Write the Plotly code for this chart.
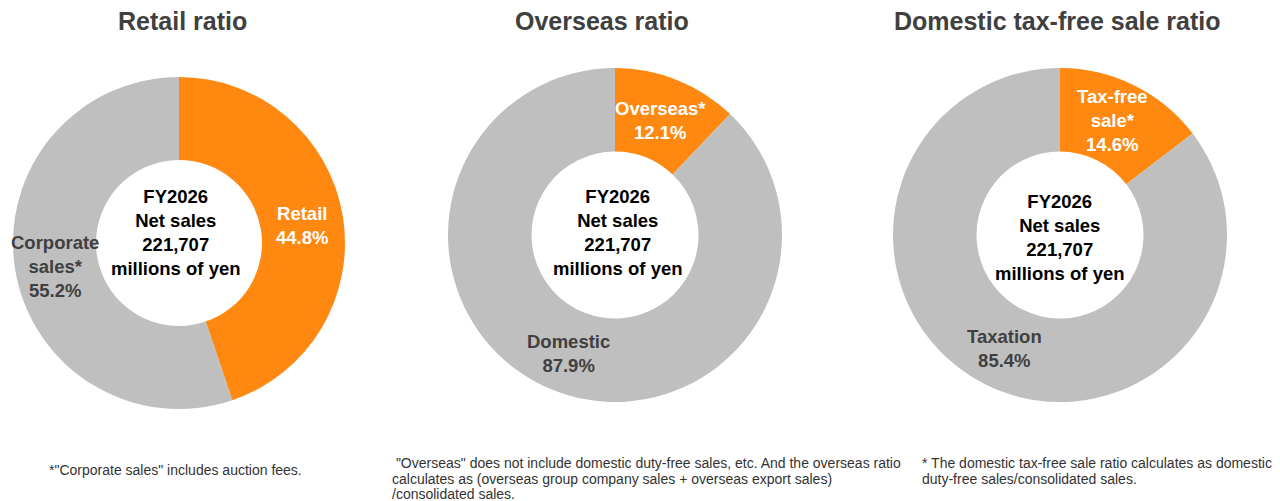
import plotly.graph_objects as go

# Chart data
titles = ["Retail ratio", "Overseas ratio", "Domestic tax-free sale ratio"]
slice_labels = [
    ["Retail", "Corporate<br>sales*"],
    ["Overseas*", "Domestic"],
    ["Tax-free<br>sale*", "Taxation"],
]
slice_values = [
    [44.8, 55.2],
    [12.1, 87.9],
    [14.6, 85.4],
]
center_text = "FY2026<br>Net sales<br>221,707<br>millions of yen"
footnotes = [
    ["*\"Corporate sales\" includes auction fees."],
    [" \"Overseas\" does not include domestic duty-free sales, etc. And the overseas ratio",
     "calculates as (overseas group company sales + overseas export sales)",
     "/consolidated sales."],
    ["* The domestic tax-free sale ratio calculates as domestic",
     "duty-free sales/consolidated sales."],
]

W, H = 1280, 501
ORANGE = "#FF8811"
GRAY = "#BFBFBF"
DARK = "#404040"
FONT = "Liberation Sans, Arial, sans-serif"

# donut centers / radius in pixels
centers = [(179, 243, 166), (615, 235, 167), (1060, 235, 167)]
# label anchor positions (pixels) for each slice label
label_pos = [
    [(302, 226), (55, 266)],
    [(660, 120), (568, 353)],
    [(1112, 121), (1004, 348)],
]
center_pos = [(176, 232), (618, 232), (1060, 237)]
title_pos = [(182, 21), (602, 21), (1057, 21)]


def px(x, y):
    return x / W, 1 - y / H


fig = go.Figure()
annotations = []
for i in range(3):
    cx, cy, r = centers[i]
    fig.add_trace(go.Pie(
        labels=[l.replace("<br>", " ") for l in slice_labels[i]],
        values=slice_values[i],
        hole=0.5,
        sort=False,
        direction="clockwise",
        rotation=0,
        marker=dict(colors=[ORANGE, GRAY], line=dict(width=0)),
        textinfo="none",
        hoverinfo="label+percent",
        showlegend=False,
        domain=dict(x=[(cx - r) / W, (cx + r) / W], y=[1 - (cy + r) / H, 1 - (cy - r) / H]),
    ))
    # slice labels
    for j in range(2):
        x, y = px(*label_pos[i][j])
        annotations.append(dict(
            x=x, y=y, xref="paper", yref="paper", showarrow=False,
            text=f"<b>{slice_labels[i][j]}<br>{slice_values[i][j]:.1f}%</b>",
            font=dict(family=FONT, size=18.5, color="white" if j == 0 else DARK),
            align="center", xanchor="center", yanchor="middle",
        ))
    # center text
    x, y = px(*center_pos[i])
    annotations.append(dict(
        x=x, y=y, xref="paper", yref="paper", showarrow=False,
        text=f"<b>{center_text}</b>",
        font=dict(family=FONT, size=18.5, color="black"),
        align="center", xanchor="center", yanchor="middle",
    ))
    # title
    x, y = px(*title_pos[i])
    annotations.append(dict(
        x=x, y=y, xref="paper", yref="paper", showarrow=False,
        text=f"<b>{titles[i]}</b>",
        font=dict(family=FONT, size=25, color=DARK),
        xanchor="center", yanchor="middle",
    ))

# footnotes, one annotation per line for tight line spacing
foot_pos = [(47, 470), (390, 463), (920, 463)]
LINE = 15.5
for (fx, fy), lines in zip(foot_pos, footnotes):
    for k, line in enumerate(lines):
        x, y = px(fx, fy + k * LINE)
        annotations.append(dict(
            x=x, y=y, xref="paper", yref="paper", showarrow=False,
            text=line, align="left", xanchor="left", yanchor="middle",
            font=dict(family=FONT, size=14, color="#333333"),
        ))

fig.update_layout(
    width=W, height=H,
    margin=dict(l=0, r=0, t=0, b=0),
    paper_bgcolor="white", plot_bgcolor="white",
    annotations=annotations,
)

fig.write_html("out.html")
